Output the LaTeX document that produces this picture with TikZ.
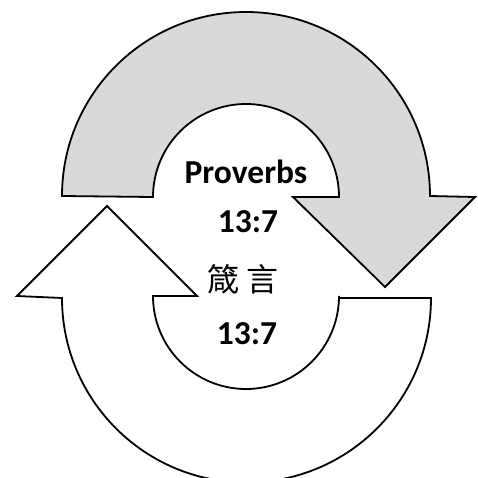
\documentclass[tikz,border=0pt]{standalone}
\usepackage{fontspec}
\setmainfont{Carlito}
\newfontfamily\cjk{Noto Sans CJK TC}
\begin{document}
\begin{tikzpicture}[x=1pt,y=1pt,
  arrowshape/.style={draw=black,line width=1.8pt,line join=miter},
  lbl/.style={font=\fontsize{33.5}{40}\selectfont\bfseries,anchor=base,inner sep=0pt},
  cjklbl/.style={font=\fontsize{32}{38}\selectfont\cjk,anchor=base,inner sep=0pt}]
\clip (0,0) rectangle (478,477);
\useasboundingbox (0,0) rectangle (478,477);
% top gray arrow
\draw[arrowshape,fill={rgb,255:red,217;green,217;blue,217}]
  (62,281) arc[start angle=180,end angle=0,radius=184]
  -- (475,280) -- (385,190) -- (293,280) -- (339,280)
  arc[start angle=0,end angle=180,radius=93] -- cycle;
% bottom white arrow
\draw[arrowshape,fill=white]
  (339,179) -- (431,179)
  arc[start angle=0,end angle=-180,radius=184.5]
  -- (17,181) -- (107,271) -- (197,181) -- (153,181)
  arc[start angle=180,end angle=360,radius=93] -- cycle;
\node[lbl] (t1) at (246,294) {Proverbs};
\node[lbl] (t2) at (248,245) {13:7};
\node[cjklbl] (t3) at (243,186) {箴 言};
\node[lbl] (t4) at (247,133) {13:7};
\end{tikzpicture}
\end{document}
